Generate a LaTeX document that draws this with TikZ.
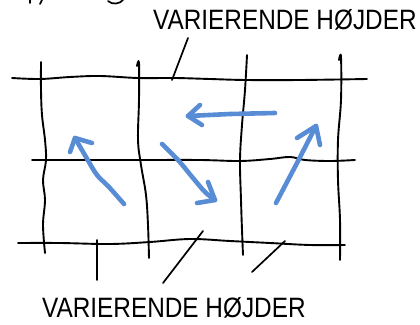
\documentclass[tikz,border=0pt]{standalone}
\usepackage{fontspec}
\setmainfont{Liberation Sans}
\definecolor{inkblue}{RGB}{88,141,214}
\tikzset{
  gridline/.style={line width=1.9pt, line cap=round, line join=round, black},
  pointer/.style={line width=1.7pt, line cap=round, black},
  flow/.style={line width=4.6pt, line cap=round, line join=round, inkblue},
  label/.style={inner sep=0pt, font=\fontsize{28}{28}\selectfont, xscale=0.87}
}
\begin{document}
\begin{tikzpicture}[x=1pt, y=-1pt]
\useasboundingbox (0,0) rectangle (420,324);

% scraps of writing cut off at the upper edge
\draw[pointer] (30,0) -- (30,3);
\draw[pointer] (42,0) -- (40,4);
\draw[pointer] (108,1) .. controls (112,5) and (120,4) .. (123,0);

% horizontal rules
\draw[gridline] plot[smooth, tension=0.6] coordinates {(12,78) (40,79) (70,77) (100,76) (138,78) (175,78) (210,79) (246,80) (300,80) (367,79)};
\draw[gridline] plot[smooth, tension=0.6] coordinates {(32,160) (80,160) (140,160) (200,160) (240,161) (270,159) (290,157) (305,160) (330,161) (355,160)};
\draw[gridline] plot[smooth, tension=0.6] coordinates {(18,243) (60,243) (110,244) (150,242) (190,239) (230,241) (270,243) (310,245) (345,245)};

% vertical rules
\draw[gridline] plot[smooth, tension=0.6] coordinates {(41,62) (41,90) (42,115) (45,140) (46,160) (43,180) (45,200) (43,225) (45,253)};
\draw[gridline] plot[smooth, tension=0.6] coordinates {(137,66) (139,63) (139,100) (138,140) (141,165) (146,195) (148,225) (149,258)};
\draw[gridline] plot[smooth, tension=0.6] coordinates {(247,55) (245,90) (242,125) (240,160) (241,200) (242,230) (243,255)};
\draw[gridline] plot[smooth, tension=0.6] coordinates {(339,60) (341,57) (341,100) (338,140) (338,180) (340,220) (340,260)};

% short extra stub below the lower rule
\draw[gridline] (97,240) -- (97,280);

% pointer strokes towards the labels
\draw[pointer] (172,80) -- (188,38);
\draw[pointer] (163,283) -- (203,231);
\draw[pointer] (252,272) -- (285,241);

% blue movement arrows
\draw[flow] plot[smooth, tension=0.6] coordinates {(124,204) (108,186) (97,175) (86,157) (75,138)};
\draw[flow] (70,152) -- (75,138) -- (92,143);

\draw[flow] plot[smooth, tension=0.6] coordinates {(162,144) (178,160) (193,178) (205,192) (215,200)};
\draw[flow] (208,182) -- (215,200) -- (197,203);

\draw[flow] (275,113) -- (230,114) -- (188,116);
\draw[flow] (200,105) -- (188,116) -- (202,125);

\draw[flow] (276,203) -- (297,163) -- (316,126);
\draw[flow] (297,138) -- (316,126) -- (320,145);

% labels
\node[label, anchor=west] (toplabel) at (153,20) {VARIERENDE HØJDER};
\node[label, anchor=west] (bottomlabel) at (42,308) {VARIERENDE HØJDER};
\end{tikzpicture}
\end{document}
